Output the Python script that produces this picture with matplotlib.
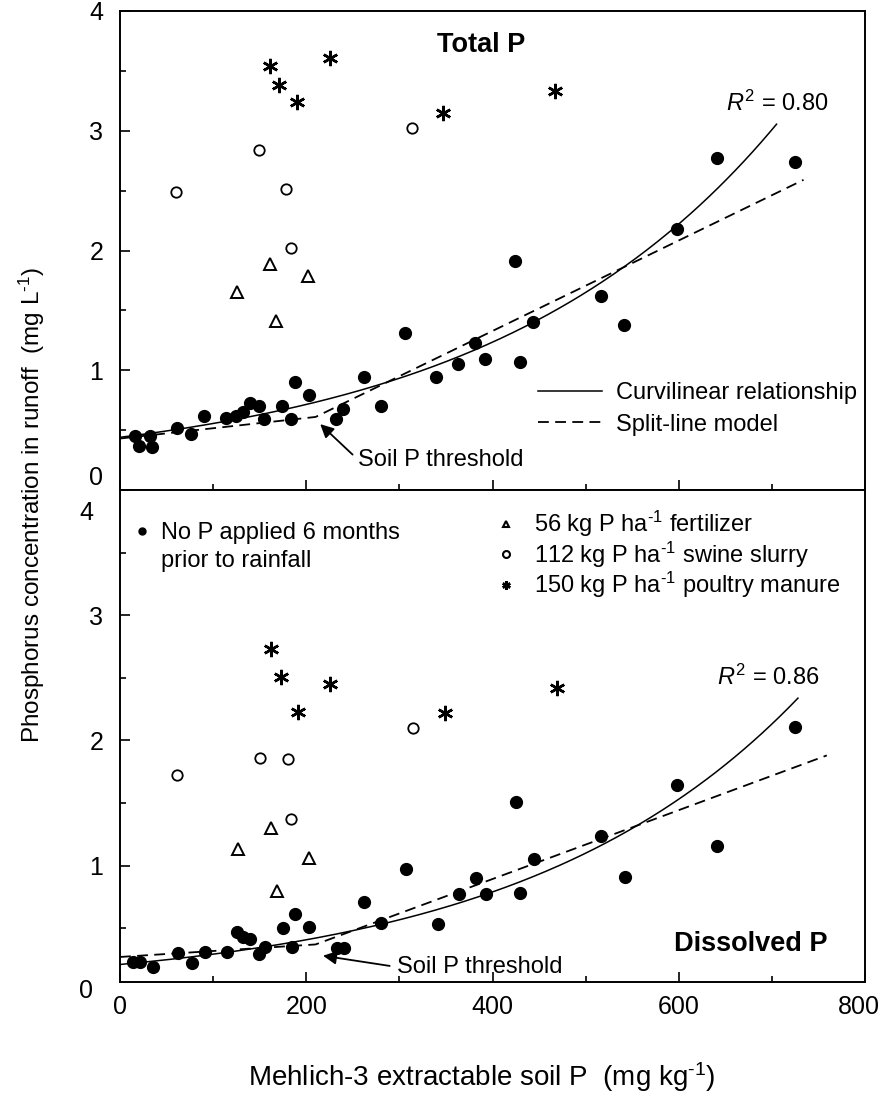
import numpy as np
import matplotlib
matplotlib.use("Agg")
import matplotlib.pyplot as plt
from matplotlib.lines import Line2D
import matplotlib.transforms as mtransforms

plt.rcParams['font.family'] = ['Liberation Sans', 'DejaVu Sans']
plt.rcParams['mathtext.fontset'] = 'custom'
plt.rcParams['mathtext.rm'] = 'Liberation Sans'
plt.rcParams['mathtext.it'] = 'Liberation Sans:italic'
plt.rcParams['mathtext.bf'] = 'Liberation Sans:bold'

# ---------------- data: Total P (top panel) ----------------
tp_nop_x = [16, 20, 32, 34, 61, 76, 90, 114, 125, 132, 140, 149, 155, 174, 184, 188, 203,
            232, 239, 262, 280, 306, 339, 363, 381, 392, 424, 430, 444, 517, 541, 598, 641, 725]
tp_nop_y = [0.45, 0.37, 0.45, 0.36, 0.52, 0.47, 0.62, 0.60, 0.62, 0.65, 0.73, 0.70, 0.59, 0.70,
            0.59, 0.90, 0.79, 0.59, 0.68, 0.94, 0.70, 1.31, 0.94, 1.05, 1.23, 1.09, 1.91, 1.07,
            1.40, 1.62, 1.38, 2.18, 2.77, 2.74]
tp_fert_x = [126, 161, 202, 168]
tp_fert_y = [1.65, 1.89, 1.79, 1.41]
tp_swine_x = [60, 149, 178, 184, 314]
tp_swine_y = [2.49, 2.84, 2.51, 2.02, 3.02]
tp_poultry_x = [161, 171, 190, 225, 347, 467]
tp_poultry_y = [3.54, 3.38, 3.24, 3.61, 3.15, 3.33]

# curvilinear fit  y = a + c*exp(b*x)   and split-line knots
tp_curve_a, tp_curve_c, tp_curve_b, tp_curve_xmax = 0.134, 0.306, 0.0032, 705
tp_split_x = [0, 210, 734]
tp_split_y = [0.43, 0.61, 2.59]
tp_r2 = "0.80"

# ---------------- data: Dissolved P (bottom panel) ----------------
dp_nop_x = [14, 21, 35, 62, 77, 91, 115, 126, 132, 140, 149, 156, 175, 185, 188, 203, 233,
            240, 262, 280, 307, 341, 364, 382, 393, 425, 430, 445, 517, 542, 598, 641, 725]
dp_nop_y = [0.23, 0.23, 0.19, 0.30, 0.225, 0.31, 0.31, 0.47, 0.43, 0.41, 0.29, 0.35, 0.50,
            0.35, 0.61, 0.51, 0.34, 0.34, 0.71, 0.54, 0.975, 0.53, 0.77, 0.90, 0.77, 1.51,
            0.78, 1.05, 1.24, 0.91, 1.64, 1.16, 2.11]
dp_fert_x = [127, 162, 203, 169]
dp_fert_y = [1.13, 1.30, 1.06, 0.80]
dp_swine_x = [61, 150, 180, 184, 315]
dp_swine_y = [1.72, 1.86, 1.85, 1.37, 2.10]
dp_poultry_x = [162, 173, 191, 226, 349, 469]
dp_poultry_y = [2.73, 2.51, 2.23, 2.45, 2.22, 2.42]

dp_curve_a, dp_curve_c, dp_curve_b, dp_curve_xmax = 0.0, 0.21, 0.00331, 728
dp_split_x = [0, 210, 759]
dp_split_y = [0.27, 0.37, 1.88]
dp_r2 = "0.86"

x_ticks = [0, 200, 400, 600, 800]
y_ticks = [0, 1, 2, 3, 4]

lbl_nop = ["No P applied 6 months", "prior to rainfall"]
lbl_fert = r"56 kg P ha$^{\text{-}1}$ fertilizer"
lbl_swine = r"112 kg P ha$^{\text{-}1}$ swine slurry"
lbl_poultry = r"150 kg P ha$^{\text{-}1}$ poultry manure"

# ---------------- figure ----------------
W_PX, H_PX = 883, 1103
fig = plt.figure(figsize=(W_PX / 100, H_PX / 100), dpi=100)
L = 120 / W_PX
Wd = (865 - 120) / W_PX
ax1 = fig.add_axes([L, 1 - 490 / H_PX, Wd, (490 - 11) / H_PX])
ax2 = fig.add_axes([L, 1 - 982 / H_PX, Wd, (982 - 490) / H_PX])

star = (6, 2, 0)
TICK_FS = 18

def draw_panel(ax, nx, ny, fx, fy, sx, sy, px, py, ca, cc, cb, cxmax, spx, spy):
    xx = np.linspace(0, cxmax, 300)
    ax.plot(xx, ca + cc * np.exp(cb * xx), color='black', lw=1.1, zorder=2)
    ax.plot(spx, spy, color='black', lw=1.3, dashes=(6, 3.5), zorder=2)
    ax.plot(nx, ny, 'o', color='black', ms=8.5, zorder=3, linestyle='none')
    ax.plot(fx, fy, '^', mfc='white', mec='black', mew=1.4, ms=8.5, linestyle='none', zorder=3)
    ax.plot(sx, sy, 'o', mfc='white', mec='black', mew=1.3, ms=7.5, linestyle='none', zorder=3)
    ax.plot(px, py, marker=star, color='black', mew=1.8, ms=11, linestyle='none', zorder=3)
    ax.set_xlim(0, 800)
    ax.set_xticks(x_ticks)
    ax.set_xticks(np.arange(100, 800, 200), minor=True)
    ax.set_yticks(y_ticks)
    ax.set_yticks([0.5, 1.5, 2.5, 3.5], minor=True)
    for s in ax.spines.values():
        s.set_linewidth(1.4)
    ax.tick_params(which='both', direction='in', top=False, right=False, width=1.2,
                   labelsize=TICK_FS)
    ax.tick_params(which='major', length=7)
    ax.tick_params(which='minor', length=4.5)
    ax.tick_params(axis='y', pad=12)
    ax.tick_params(axis='x', pad=9)

draw_panel(ax1, tp_nop_x, tp_nop_y, tp_fert_x, tp_fert_y, tp_swine_x, tp_swine_y,
           tp_poultry_x, tp_poultry_y, tp_curve_a, tp_curve_c, tp_curve_b, tp_curve_xmax,
           tp_split_x, tp_split_y)
draw_panel(ax2, dp_nop_x, dp_nop_y, dp_fert_x, dp_fert_y, dp_swine_x, dp_swine_y,
           dp_poultry_x, dp_poultry_y, dp_curve_a, dp_curve_c, dp_curve_b, dp_curve_xmax,
           dp_split_x, dp_split_y)

ax1.set_ylim(0, 4.0)
ax2.set_ylim(0.07, 4.0)
ax1.tick_params(axis='x', labelbottom=False)

# x tick labels: the last one is kept inside the canvas
ax2.set_xticklabels([str(v) for v in x_ticks[:-1]] + [""])
blend_x = mtransforms.blended_transform_factory(ax2.transData, ax2.transAxes)
ax2.annotate(str(x_ticks[-1]), xy=(x_ticks[-1], 0), xycoords=blend_x,
             xytext=(15, -12.5), textcoords='offset pixels', ha='right', va='top',
             fontsize=TICK_FS, annotation_clip=False)

# y labels at the panel junction / below the shifted bottom axis
ax1.yaxis.get_major_ticks()[0].label1.set_va('bottom')
ax2.set_yticks(y_ticks[1:])
ax2.set_yticklabels([str(v) for v in y_ticks[1:-1]] + [""])
blend2 = mtransforms.blended_transform_factory(ax2.transAxes, ax2.transData)
lab_dx = -0.036
ax2.text(lab_dx, 0.0, "0", transform=blend2, ha='right', va='center',
         fontsize=TICK_FS, clip_on=False)
ax2.text(lab_dx, 3.82, "4", transform=blend2, ha='right', va='center',
         fontsize=TICK_FS, clip_on=False)

# panel titles and R2
ax1.text(388, 3.72, "Total P", ha='center', va='center', fontsize=19.5, fontweight='bold')
ax2.text(760, 0.37, "Dissolved P", ha='right', va='center', fontsize=19.5, fontweight='bold')
ax1.text(706, 3.23, r"$R^2$ = " + tp_r2, ha='center', va='center', fontsize=17)
ax2.text(696, 2.50, r"$R^2$ = " + dp_r2, ha='center', va='center', fontsize=17)

# soil P threshold arrows
arrow_kw = dict(arrowstyle='-|>', color='black', lw=1.3, mutation_scale=20,
                shrinkA=3, shrinkB=0)
ax1.annotate("Soil P threshold", xy=(215, 0.55), xytext=(256, 0.25),
             ha='left', va='center', fontsize=17,
             arrowprops=dict(relpos=(0, 0.5), **arrow_kw))
ax2.annotate("Soil P threshold", xy=(218, 0.28), xytext=(297, 0.19),
             ha='left', va='center', fontsize=17,
             arrowprops=dict(relpos=(0, 0.5), **arrow_kw))

# line legend in the top panel
line_handles = [Line2D([], [], color='black', lw=1.1),
                Line2D([], [], color='black', lw=1.3, dashes=(6, 3.5))]
ax1.legend(line_handles, ["Curvilinear relationship", "Split-line model"],
           loc='upper left', bbox_to_anchor=(0.561, 0.225), frameon=False,
           fontsize=17, handlelength=2.7, handletextpad=0.6, labelspacing=0.4,
           borderpad=0, borderaxespad=0)

# marker legends in the bottom panel
leg_a = ax2.legend([Line2D([], [], marker='o', color='black', ms=5, linestyle='none'),
                    Line2D([], [], linestyle='none')],
                   lbl_nop, loc='upper left', bbox_to_anchor=(0.022, 0.935),
                   frameon=False, fontsize=17, handlelength=0.5, handletextpad=0.55,
                   labelspacing=0.25, borderpad=0, borderaxespad=0)
ax2.add_artist(leg_a)
ax2.legend([Line2D([], [], marker='^', mfc='white', mec='black', mew=1.5, ms=5, linestyle='none'),
            Line2D([], [], marker='o', mfc='white', mec='black', mew=1.5, ms=5, linestyle='none'),
            Line2D([], [], marker=star, color='black', mew=1.8, ms=6, linestyle='none')],
           [lbl_fert, lbl_swine, lbl_poultry], loc='upper left',
           bbox_to_anchor=(0.505, 0.962), frameon=False, fontsize=17, handlelength=0.8,
           handletextpad=0.8, labelspacing=0.02, borderpad=0, borderaxespad=0)

# axis labels
fig.text(32 / W_PX, 1 - 505 / H_PX, r"Phosphorus concentration in runoff  (mg L$^{\text{-}1}$)",
         rotation=90, ha='center', va='center', fontsize=17.5)
fig.text(482 / W_PX, 1 - 1077 / H_PX, r"Mehlich-3 extractable soil P  (mg kg$^{\text{-}1}$)",
         ha='center', va='center', fontsize=20)

fig.savefig("out.png", dpi=100, facecolor='white')
